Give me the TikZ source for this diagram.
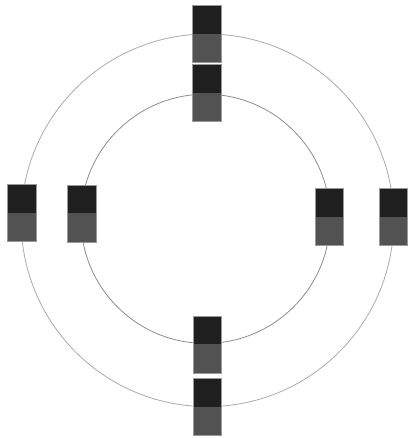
\documentclass[tikz,border=0pt]{standalone}
\begin{document}
\begin{tikzpicture}[x=1pt,y=-1pt,
  ring/.style={circle,draw=#1,line width=0.8pt,inner sep=0pt},
  block/.style={rectangle,draw=black!40,line width=0.5pt,fill=black!68,
    minimum width=28.5pt,minimum height=57pt,inner sep=0pt,
    path picture={\fill[black!88] (path picture bounding box.north west) rectangle (path picture bounding box.east);}}]
\useasboundingbox (0,0) rectangle (410,438);
\node[ring=black!33,minimum size=372.6pt] (outer) at (207.4,220.3) {};
\node[ring=black!45,minimum size=249.2pt] (inner) at (205.5,218.8) {};
\node[block] (ot) at (206.9,33.8) {};
\node[block] (it) at (206.9,93.2) {};
\node[block] (ol) at (21.5,213) {};
\node[block] (il) at (81.7,213.3) {};
\node[block] (ir) at (329.2,217) {};
\node[block] (or) at (393.3,217) {};
\node[block] (ib) at (207.2,344.3) {};
\node[block] (ob) at (207.2,407.2) {};
\end{tikzpicture}
\end{document}
